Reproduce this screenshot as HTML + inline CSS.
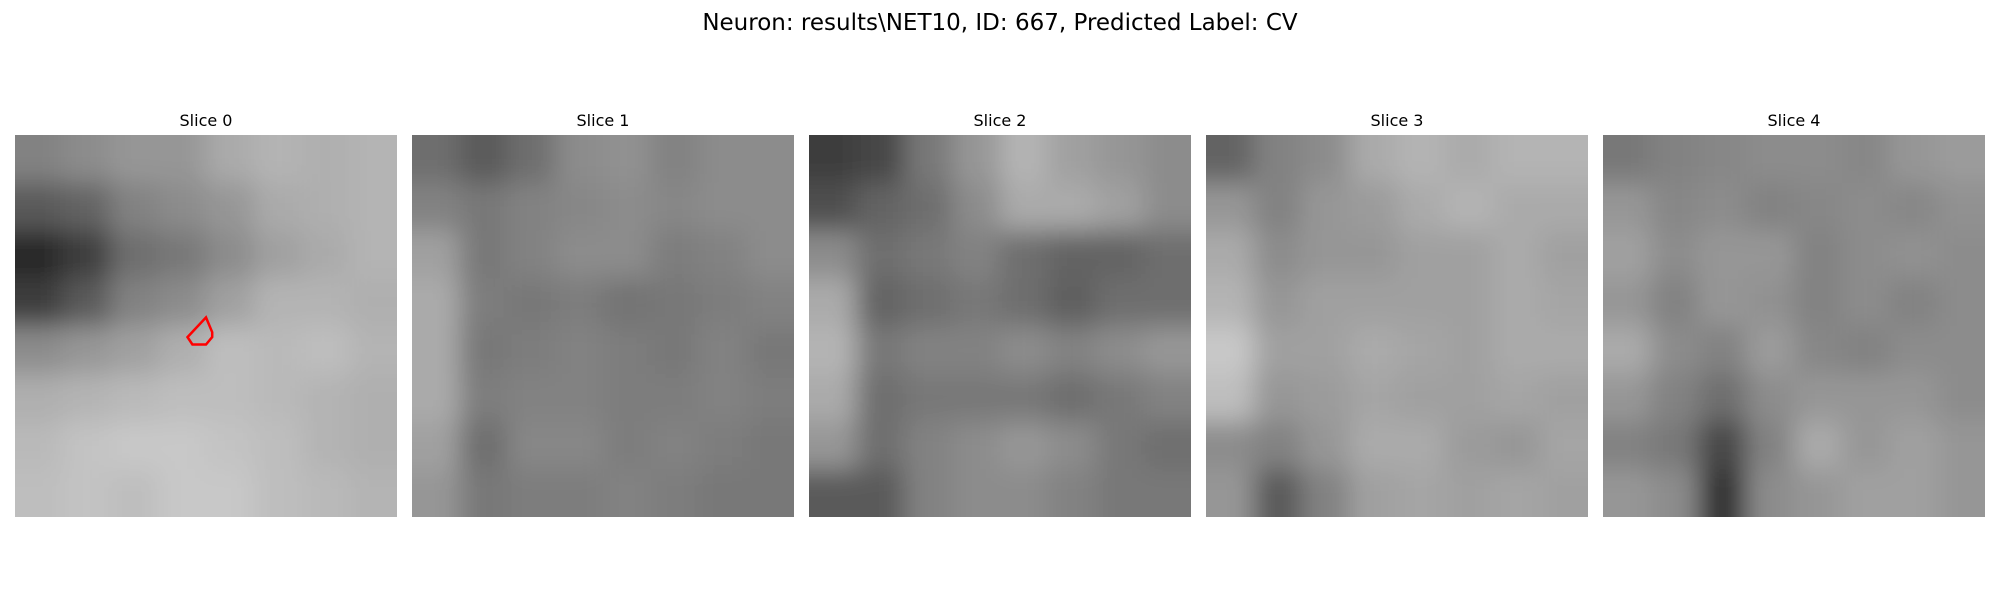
<!DOCTYPE html>
<html><head><meta charset="utf-8"><style>
html,body{margin:0;padding:0;background:#fff;width:2000px;height:600px;overflow:hidden;font-family:"Liberation Sans","DejaVu Sans",sans-serif}
</style></head><body>
<svg id="fig" width="2000" height="600" xmlns="http://www.w3.org/2000/svg">
<text x="1000" y="30" text-anchor="middle" font-size="23" font-family="DejaVu Sans, Liberation Sans, sans-serif" fill="#000">Neuron: results\NET10, ID: 667, Predicted Label: CV</text>
<g id="panels"></g>
</svg>
<script>
const sliceNames = ["Slice 0","Slice 1","Slice 2","Slice 3","Slice 4"];
const slice0 = [
[130,140,150,150,170,180,175,180],
[90,100,130,140,150,170,175,180],
[40,60,110,120,140,160,170,180],
[60,90,130,140,160,180,180,175],
[140,150,160,175,190,185,190,180],
[175,180,185,190,190,185,180,175],
[185,195,200,200,195,190,180,175],
[190,195,190,200,200,190,185,180]];
const slice1 = [
[110,90,110,140,145,130,140,140],
[130,120,130,135,140,135,140,140],
[160,120,130,140,140,125,130,140],
[170,125,120,125,115,120,125,130],
[170,120,125,130,125,120,130,120],
[170,125,130,130,125,125,130,125],
[160,110,135,135,125,130,125,120],
[150,120,125,125,130,125,120,120]];
const slice2 = [
[60,70,120,150,180,160,150,140],
[80,100,110,140,170,170,160,140],
[140,110,120,130,110,100,100,110],
[170,100,110,120,110,95,110,110],
[180,120,130,130,140,130,140,150],
[170,110,120,120,120,110,120,130],
[150,110,130,140,150,140,120,110],
[90,90,130,140,140,130,120,120]];
const slice3 = [
[100,130,140,170,180,170,180,180],
[150,130,150,155,170,180,170,170],
[170,140,150,150,160,160,170,160],
[180,150,160,160,160,160,170,165],
[200,160,160,170,165,160,170,170],
[190,150,155,165,160,160,165,160],
[140,130,150,170,170,155,150,165],
[150,90,130,160,165,160,165,160]];
const slice4 = [
[120,130,135,140,140,135,150,155],
[150,135,140,130,135,140,135,145],
[160,140,150,150,130,140,145,140],
[150,130,150,145,130,140,130,140],
[170,140,130,155,135,130,140,140],
[150,130,110,140,150,150,150,140],
[130,120,70,130,170,150,160,150],
[150,140,50,140,150,160,160,150]];
const slices = [slice0,slice1,slice2,slice3,slice4];
const contourX = [14.0,15.5,16.0,16.0,15.5,14.4];
const contourY = [16.4,14.8,16.0,16.4,17.0,17.0];

const NS = "http://www.w3.org/2000/svg";
const panelLeft = [15,412,809,1206,1603];
const panelTop = 135, size = 382, nCells = 31, pad = 50;
const g = document.getElementById("panels");
const defs = document.createElementNS(NS,"defs");
g.appendChild(defs);
slices.forEach((grid,i)=>{
  const x0 = panelLeft[i];
  const cp = document.createElementNS(NS,"clipPath");
  cp.setAttribute("id","clip"+i);
  const cr = document.createElementNS(NS,"rect");
  cr.setAttribute("x",x0);cr.setAttribute("y",panelTop);cr.setAttribute("width",size);cr.setAttribute("height",size);
  cp.appendChild(cr);defs.appendChild(cp);
  const f = document.createElementNS(NS,"filter");
  f.setAttribute("id","blur"+i);f.setAttribute("filterUnits","userSpaceOnUse");
  f.setAttribute("x",x0-60);f.setAttribute("y",panelTop-60);f.setAttribute("width",size+120);f.setAttribute("height",size+120);
  const fb = document.createElementNS(NS,"feGaussianBlur");
  fb.setAttribute("stdDeviation","13");
  f.appendChild(fb);defs.appendChild(f);

  const panel = document.createElementNS(NS,"g");
  
  
  panel.setAttribute("clip-path","url(#clip"+i+")");
  const img = document.createElementNS(NS,"g");
  img.setAttribute("filter","url(#blur"+i+")");
  const n = grid.length, cs = size/n;
  grid.forEach((row,r)=>row.forEach((v,c)=>{
    let x = x0+c*cs, y = panelTop+r*cs, w = cs+0.5, h = cs+0.5;
    if(c===0){x-=pad;w+=pad;}
    if(c===n-1){w+=pad;}
    if(r===0){y-=pad;h+=pad;}
    if(r===n-1){h+=pad;}
    const rc = document.createElementNS(NS,"rect");
    
    
    rc.setAttribute("x",x);rc.setAttribute("y",y);
    rc.setAttribute("width",w);rc.setAttribute("height",h);
    rc.setAttribute("fill","rgb("+v+","+v+","+v+")");
    img.appendChild(rc);
  }));
  panel.appendChild(img);
  g.appendChild(panel);

  const t = document.createElementNS(NS,"text");
  
  
  t.setAttribute("x",x0+size/2);t.setAttribute("y",126);
  t.setAttribute("text-anchor","middle");t.setAttribute("font-size","16");
  t.setAttribute("font-family","DejaVu Sans, Liberation Sans, sans-serif");
  t.textContent = sliceNames[i];
  g.appendChild(t);

  if(i===0){
    const cell = size/nCells;
    const pts = contourX.map((cx,k)=>(x0+cx*cell).toFixed(1)+","+(panelTop+contourY[k]*cell).toFixed(1)).join(" ");
    const pg = document.createElementNS(NS,"polygon");
    
    
    pg.setAttribute("points",pts);pg.setAttribute("fill","none");
    pg.setAttribute("stroke","#ff0000");pg.setAttribute("stroke-width","2.5");
    g.appendChild(pg);
  }
});
</script>
</body></html>
